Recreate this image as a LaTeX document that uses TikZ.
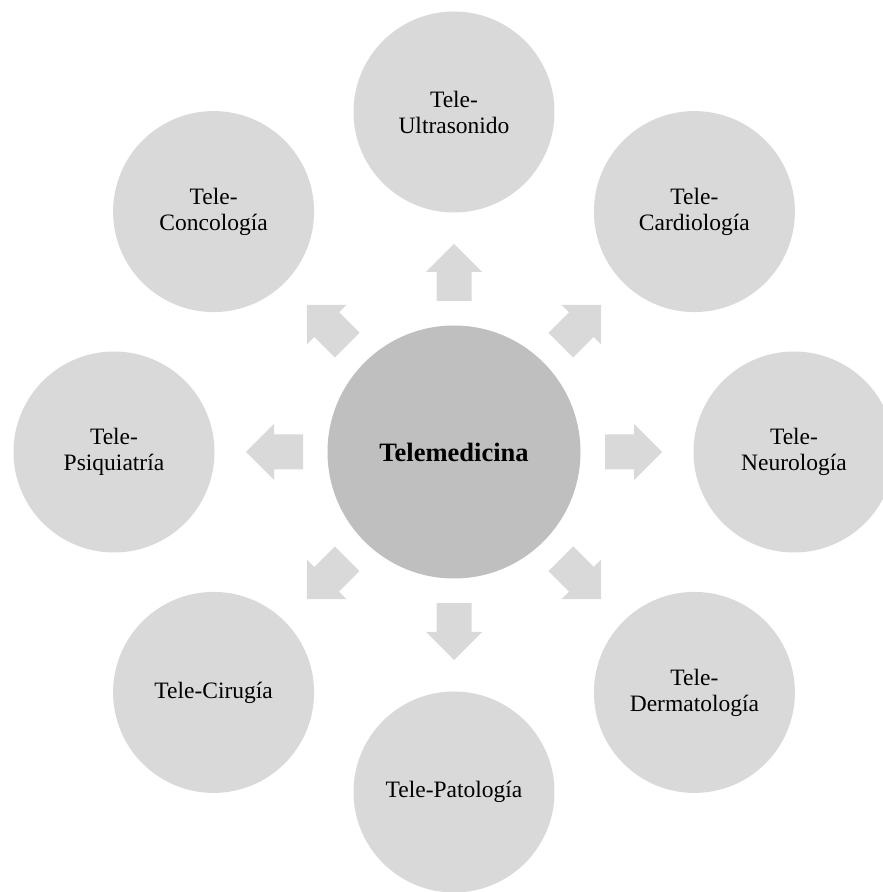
\documentclass[tikz,border=0pt]{standalone}
\usepackage{fontspec}
\setmainfont{Liberation Serif}
\usetikzlibrary{calc}
\definecolor{outerfill}{HTML}{D9D9D9}
\definecolor{centerfill}{HTML}{BFBFBF}
\definecolor{arrowfill}{HTML}{D9D9D9}
\begin{document}
\begin{tikzpicture}[x=1pt,y=1pt,
  outer/.style={circle,fill=outerfill,draw=none,minimum size=201pt,inner sep=0pt,
    align=center,font=\fontsize{23.5}{26}\selectfont},
  hub/.style={circle,fill=centerfill,draw=none,minimum size=253pt,inner sep=0pt,
    align=center,font=\fontsize{26.5}{30}\selectfont\bfseries},
  blockarrow/.style={fill=arrowfill,draw=none}]
\useasboundingbox (0,0) rectangle (883,892);
\clip (0,0) rectangle (883,892);
\coordinate (o) at (454,440);
\node[hub] (c) at (o) {Telemedicina};
\node[outer] (ultra) at ($(o)+(90:340pt)$)   {Tele-\\Ultrasonido};
\node[outer] (cardio) at ($(o)+(45:340pt)$)  {Tele-\\Cardiología};
\node[outer] (neuro) at ($(o)+(0:340pt)$)    {Tele-\\Neurología};
\node[outer] (derma) at ($(o)+(-45:340pt)$)  {Tele-\\Dermatología};
\node[outer] (pato) at ($(o)+(-90:340pt)$)   {Tele-Patología};
\node[outer] (ciru) at ($(o)+(-135:340pt)$)  {Tele-Cirugía};
\node[outer] (psiq) at ($(o)+(180:340pt)$)   {Tele-\\Psiquiatría};
\node[outer] (onco) at ($(o)+(135:340pt)$)   {Tele-\\Concología};
\foreach \t/\n in {90/ultra,45/cardio,0/neuro,-45/derma,-90/pato,-135/ciru,180/psiq,135/onco}{
  \fill[blockarrow,shift={(c.center)},rotate=\t]
    (151,-17.5) -- (180,-17.5) -- (180,-28) -- (208,0) -- (180,28)
    -- (180,17.5) -- (151,17.5) -- cycle;
}
\end{tikzpicture}
\end{document}
